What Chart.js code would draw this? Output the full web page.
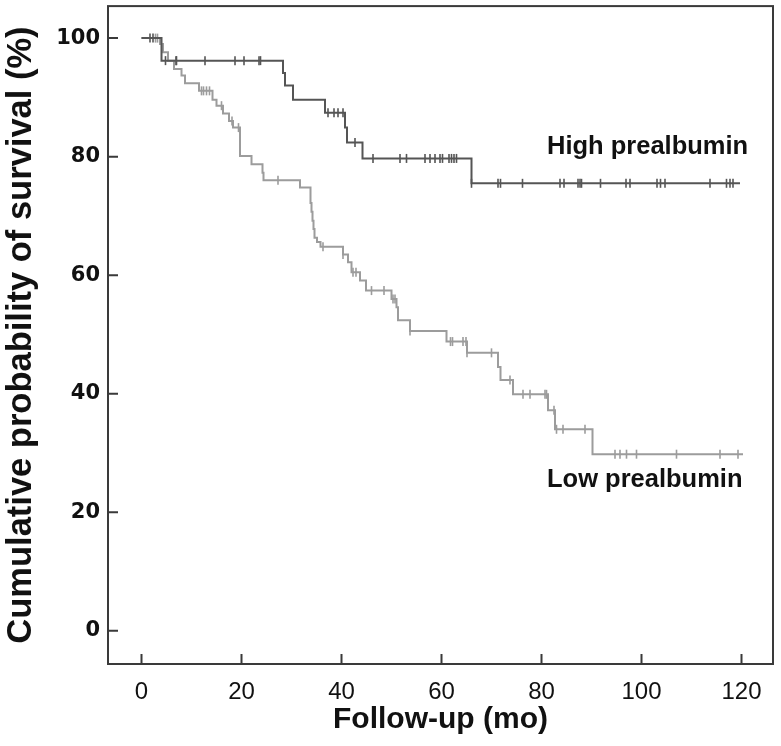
<!DOCTYPE html>
<html>
<head>
<meta charset="utf-8">
<script src="https://cdn.jsdelivr.net/npm/chart.js@4/dist/chart.umd.min.js"></script>
<style>
  body { margin: 0; background: #fff; }
  #wrap { width: 781px; height: 746px; }
</style>
</head>
<body>
<div id="wrap"><canvas id="km" width="781" height="746"></canvas></div>
<script>
// Kaplan-Meier steps (months, % surviving after the event)
var highTimes = [0, 4.0, 28.3, 28.7, 30.3, 36.7, 40.7, 41.1, 44.2, 66.0, 119.7];
var highSurv = [100, 96.2, 94.1, 92.0, 89.6, 87.4, 84.9, 82.4, 79.7, 75.5, 75.5];
var highCensor = [1.7, 2.3, 4.8, 6.9, 7.0, 12.7, 18.7, 20.5, 23.5, 23.8, 37.3, 38.5, 39.3, 40.3,
  42.7, 46.3, 51.7, 53.0, 56.7, 57.7, 58.7, 59.7, 60.2, 61.5, 62.0, 62.5, 63.0, 66.0, 71.3, 71.8,
  76.2, 83.7, 84.5, 87.3, 87.7, 88.0, 91.8, 96.9, 97.7, 103.1, 103.8, 104.7, 113.7, 117.0, 117.7, 118.3];

var lowTimes = [0, 3.7, 4.3, 5.3, 6.5, 8.0, 8.7, 11.5, 14.2, 15.0, 16.3, 17.5, 18.3, 19.7, 22.0,
  24.2, 24.4, 31.7, 33.8, 34.0, 34.2, 34.4, 34.6, 35.1, 35.8, 40.3, 41.3, 42.0, 43.7, 44.9, 50.0,
  51.0, 51.3, 53.7, 61.0, 65.1, 71.3, 71.8, 74.3, 81.3, 82.7, 90.2, 120.3];
var lowSurv = [100, 99.0, 97.6, 96.2, 94.8, 93.7, 92.4, 91.1, 89.6, 88.6, 87.3, 86.0, 84.9, 80.1, 78.7,
  77.3, 76.0, 74.8, 72.2, 70.7, 69.2, 67.8, 66.3, 65.6, 64.8, 63.5, 62.2, 60.5, 59.1, 57.4, 56.0,
  54.6, 52.4, 50.6, 48.8, 46.9, 44.5, 42.3, 39.9, 37.2, 34.0, 29.8, 29.8];
var lowCensor = [2.8, 3.2, 12.0, 12.4, 13.0, 13.6, 16.0, 18.1, 19.4, 27.3, 36.3, 40.3, 42.3, 42.9,
  46.0, 48.5, 50.3, 50.7, 53.7, 61.8, 62.2, 64.3, 64.9, 65.1, 70.0, 73.7, 76.3, 77.7, 80.7, 81.0,
  82.5, 83.0, 84.3, 88.7, 94.7, 95.7, 97.0, 99.0, 107.0, 115.7, 119.3];

var groupNames = ["High prealbumin", "Low prealbumin"];
var xTicks = [0, 20, 40, 60, 80, 100, 120];
var yTicks = [0, 20, 40, 60, 80, 100];

function stepPoints(times, surv) {
  return times.map(function (t, i) { return { x: t, y: surv[i] }; });
}

// survival level of a curve at time t (for placing the censor ticks on it)
function survAt(times, surv, t) {
  var s = surv[0];
  for (var i = 0; i < times.length; i++) {
    if (times[i] <= t) s = surv[i];
  }
  return s;
}

function censorPoints(times, surv, cens) {
  return cens.map(function (t) { return { x: t, y: survAt(times, surv, t) }; });
}

var darkGrey = "#555555";
var lightGrey = "#9c9c9c";
var frameColor = "#3a3a3a";

var frame = {
  id: "frame",
  afterDraw: function (chart) {
    var ctx = chart.ctx, a = chart.chartArea;
    var x = chart.scales.x, y = chart.scales.y;
    ctx.save();
    ctx.strokeStyle = frameColor;
    ctx.lineWidth = 2;
    ctx.strokeRect(a.left, a.top, a.right - a.left, a.bottom - a.top);
    ctx.beginPath();
    x.ticks.forEach(function (t) {
      var px = x.getPixelForValue(t.value);
      ctx.moveTo(px, a.bottom);
      ctx.lineTo(px, a.bottom - 10);
    });
    y.ticks.forEach(function (t) {
      var py = y.getPixelForValue(t.value);
      ctx.moveTo(a.left, py);
      ctx.lineTo(a.left + 10, py);
    });
    ctx.stroke();

    // curve labels
    ctx.fillStyle = "#111";
    ctx.font = "bold 25.5px 'Liberation Sans', Arial, sans-serif";
    ctx.textBaseline = "alphabetic";
    ctx.textAlign = "left";
    ctx.fillText(groupNames[0], x.getPixelForValue(81.1), y.getPixelForValue(80.5));
    ctx.fillText(groupNames[1], x.getPixelForValue(81.1), y.getPixelForValue(24.2));
    ctx.restore();
  }
};

var ctx = document.getElementById("km").getContext("2d");
var chart = new Chart(ctx, {
  type: "scatter",
  data: {
    datasets: [
      {
        label: groupNames[0],
        data: stepPoints(highTimes, highSurv),
        showLine: true,
        stepped: "before",
        borderColor: darkGrey,
        borderWidth: 2,
        pointRadius: 0
      },
      {
        label: groupNames[1],
        data: stepPoints(lowTimes, lowSurv),
        showLine: true,
        stepped: "before",
        borderColor: lightGrey,
        borderWidth: 2,
        pointRadius: 0
      },
      {
        label: "high censored",
        data: censorPoints(highTimes, highSurv, highCensor),
        showLine: false,
        pointStyle: "line",
        rotation: 90,
        pointRadius: 4.5,
        borderColor: darkGrey,
        borderWidth: 1.6
      },
      {
        label: "low censored",
        data: censorPoints(lowTimes, lowSurv, lowCensor),
        showLine: false,
        pointStyle: "line",
        rotation: 90,
        pointRadius: 4.5,
        borderColor: lightGrey,
        borderWidth: 1.6
      }
    ]
  },
  options: {
    responsive: false,
    animation: false,
    layout: { padding: { top: 5, right: 8, left: 0, bottom: 0 } },
    plugins: {
      legend: { display: false },
      tooltip: { enabled: false }
    },
    scales: {
      x: {
        type: "linear",
        min: -6.7,
        max: 126.3,
        afterBuildTicks: function (scale) {
          scale.ticks = xTicks.map(function (v) { return { value: v }; });
        },
        afterFit: function (scale) {
          scale.height = 82;
          scale.paddingLeft = 0;
          scale.paddingRight = 0;
        },
        grid: { display: true, drawOnChartArea: false, drawTicks: false },
        border: { display: false },
        ticks: {
          color: "#111",
          padding: 14,
          maxRotation: 0,
          font: { family: "'Liberation Sans', Arial, sans-serif", size: 24 }
        },
        title: {
          display: true,
          text: "Follow-up (mo)",
          color: "#111",
          padding: { top: 0, bottom: 8 },
          font: { family: "'Liberation Sans', Arial, sans-serif", size: 30, weight: "bold", lineHeight: 1.2 }
        }
      },
      y: {
        type: "linear",
        min: -5.6,
        max: 105.4,
        afterBuildTicks: function (scale) {
          scale.ticks = yTicks.map(function (v) { return { value: v }; });
        },
        afterFit: function (scale) {
          scale.width = 108;
          scale.paddingTop = 0;
          scale.paddingBottom = 0;
        },
        grid: { display: true, drawOnChartArea: false, drawTicks: false },
        border: { display: false },
        ticks: {
          color: "#111",
          padding: 8,
          font: { family: "'DejaVu Sans', Verdana, sans-serif", size: 21, weight: "bold" }
        },
        title: {
          display: true,
          text: "Cumulative probability of survival (%)",
          color: "#111",
          padding: { top: 1, bottom: 0 },
          font: { family: "'Liberation Sans', Arial, sans-serif", size: 34.5, weight: "bold", lineHeight: 1.2 }
        }
      }
    }
  },
  plugins: [frame]
});
</script>
</body>
</html>
